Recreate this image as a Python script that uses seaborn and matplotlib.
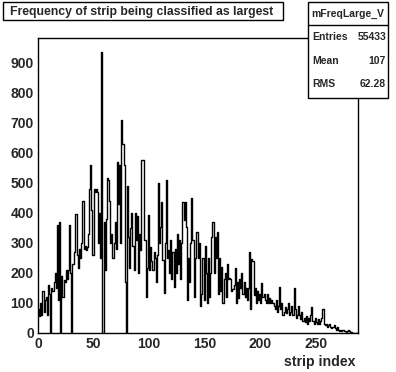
import numpy as np
import pandas as pd
import matplotlib
matplotlib.use("Agg")
import matplotlib.pyplot as plt
from matplotlib.patches import Rectangle
from matplotlib.lines import Line2D
from matplotlib.ticker import MultipleLocator
import seaborn as sns

# counts per strip (bin width 1, strips 0..287)
counts = [
    80, 55, 100, 60, 140, 70, 110, 120, 60, 160, 130, 0,
    150, 140, 170, 200, 150, 360, 110, 370, 0, 190, 120, 175,
    170, 210, 180, 210, 360, 200, 0, 230, 270, 395, 395, 260,
    215, 280, 250, 300, 440, 280, 290, 275, 285, 330, 480, 560,
    410, 260, 480, 470, 480, 470, 300, 400, 250, 935, 0, 370,
    210, 380, 515, 510, 440, 300, 330, 250, 300, 370, 280, 570,
    430, 560, 300, 710, 630, 560, 170, 0, 490, 320, 215, 350,
    400, 290, 210, 400, 310, 390, 200, 330, 276, 575, 575, 309,
    310, 120, 215, 392, 210, 285, 240, 210, 270, 250, 170, 260,
    498, 300, 352, 435, 242, 133, 300, 508, 250, 276, 200, 309,
    180, 270, 153, 280, 200, 330, 230, 310, 180, 300, 435, 375,
    435, 352, 110, 250, 170, 300, 448, 310, 120, 250, 335, 335,
    250, 300, 90, 130, 250, 110, 290, 200, 100, 250, 120, 200,
    320, 370, 200, 320, 250, 335, 130, 250, 140, 220, 100, 180,
    200, 120, 230, 180, 182, 180, 140, 145, 160, 215, 100, 170,
    116, 180, 150, 200, 130, 170, 120, 150, 110, 150, 269, 80,
    245, 240, 125, 150, 100, 140, 110, 130, 100, 166, 120, 130,
    110, 100, 130, 100, 115, 100, 110, 100, 90, 80, 110, 70,
    90, 153, 80, 100, 60, 70, 85, 65, 80, 100, 60, 70,
    90, 60, 150, 80, 50, 60, 90, 60, 45, 70, 40, 50,
    35, 55, 30, 50, 40, 60, 85, 40, 30, 50, 35, 30,
    45, 30, 40, 50, 80, 30, 25, 30, 20, 25, 30, 20,
    15, 20, 25, 15, 10, 20, 10, 5, 10, 5, 10, 5,
    8, 3, 5, 10, 5, 2, 3, 0, 0, 0, 0, 0,
]
n_bins = len(counts)

title = "Frequency of strip being classified as largest"
hist_name = "mFreqLarge_V"
stats = [("Entries", "55433"), ("Mean", "107"), ("RMS", "62.28")]
x_label = "strip index"

df = pd.DataFrame({"strip": np.arange(n_bins) + 0.5, "count": counts})

sns.set_style("white")
plt.rcParams["font.family"] = ["Liberation Sans", "DejaVu Sans"]
plt.rcParams["font.weight"] = "bold"

W, H = 396, 372
fig = plt.figure(figsize=(W / 100, H / 100), dpi=100)
ax = fig.add_axes([38 / W, 1 - 333 / H, 320 / W, 295 / H])

sns.histplot(data=df, x="strip", weights="count", binwidth=1,
             binrange=(0, n_bins), element="step", fill=False,
             color="black", linewidth=1, ax=ax)

ax.set_xlim(0, n_bins)
ax.set_ylim(0, 1.05 * max(counts))
ax.set_xlabel("")
ax.set_ylabel("")
for s in ax.spines.values():
    s.set_color("black")
    s.set_linewidth(1)

ax.xaxis.set_major_locator(MultipleLocator(50))
ax.xaxis.set_minor_locator(MultipleLocator(10))
ax.yaxis.set_major_locator(MultipleLocator(100))
ax.yaxis.set_minor_locator(MultipleLocator(20))
ax.tick_params(which="both", direction="in", top=False, right=False,
               color="black", width=1)
ax.tick_params(axis="y", which="major", length=7.5, pad=3, labelsize=10)
ax.tick_params(axis="y", which="minor", length=3.8)
ax.tick_params(axis="x", which="major", length=6, pad=3, labelsize=10)
ax.tick_params(axis="x", which="minor", length=3)
for lab in ax.get_xticklabels() + ax.get_yticklabels():
    lab.set_fontweight("bold")

fig.text(355 / W, 1 - 362 / H, x_label, ha="right", va="center",
         fontsize=10.2, fontweight="bold")


def px(x, y):
    return x / W, 1 - y / H


# title box
x0, y0 = px(3, 20)
fig.add_artist(Rectangle((x0, y0), 280 / W, 18 / H, transform=fig.transFigure,
                         facecolor="white", edgecolor="black", linewidth=1))
fig.text(*px(142, 11.5), title, ha="center", va="center",
         fontsize=8.8, fontweight="bold")

# stats box
x0, y0 = px(308, 98)
fig.add_artist(Rectangle((x0, y0), 80 / W, 96 / H, transform=fig.transFigure,
                         facecolor="white", edgecolor="black", linewidth=1,
                         zorder=5))
fig.add_artist(Line2D([308 / W, 388 / W], [1 - 25 / H, 1 - 25 / H],
                      transform=fig.transFigure, color="black", linewidth=1,
                      zorder=6))
fig.text(*px(348, 14), hist_name, ha="center", va="center",
         fontsize=7.5, fontweight="bold", zorder=7)
for i, (k, v) in enumerate(stats):
    yy = 37 + i * 23.5
    fig.text(*px(312, yy), k, ha="left", va="center", fontsize=7.5,
             fontweight="bold", zorder=7)
    fig.text(*px(386, yy), v, ha="right", va="center", fontsize=7.5,
             fontweight="bold", zorder=7)

fig.savefig("out.png", dpi=100)
